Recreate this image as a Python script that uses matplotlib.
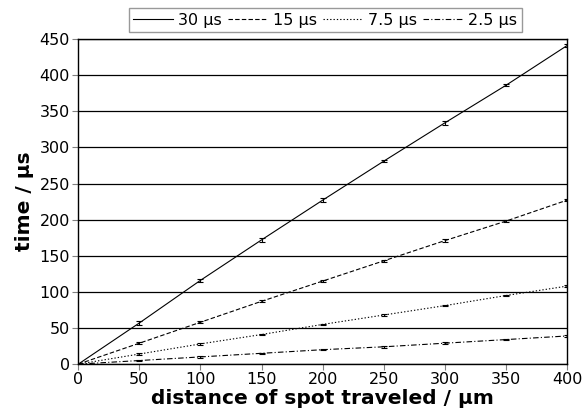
import matplotlib.pyplot as plt

# distance of spot traveled (um)
distance = [0, 50, 100, 150, 200, 250, 300, 350, 400]

# time (us) for each exposure
t_30 = [0, 57, 116, 172, 227, 281, 334, 386, 441]
t_15 = [0, 29, 58, 87, 115, 143, 171, 198, 227]
t_7_5 = [0, 14, 28, 41, 55, 68, 81, 95, 108]
t_2_5 = [0, 5, 10, 15, 20, 24, 29, 34, 39]

err_30 = [0, 2.5, 2.5, 3, 3, 1.5, 2.5, 1.5, 2]
err_15 = [0, 1.5, 1.5, 1.5, 1.5, 1.5, 2, 1, 1.5]
err_7_5 = [0, 1, 1, 1, 1, 1, 1, 1, 1.5]
err_2_5 = [0, 1, 1, 1, 1, 1, 1, 1, 1]

labels = ['30 µs', '15 µs', '7.5 µs', '2.5 µs']

fig = plt.figure(figsize=(5.84, 4.2), dpi=100)
ax = fig.add_axes([0.134, 0.133, 0.837, 0.774])

series = [t_30, t_15, t_7_5, t_2_5]
errs = [err_30, err_15, err_7_5, err_2_5]
styles = ['-', (0, (4, 2)), (0, (1.2, 1.8)), (0, (5, 2, 1, 2))]

for y, e, ls, lab in zip(series, errs, styles, labels):
    ax.errorbar(distance, y, yerr=e, color='black', lw=0.8, ls=ls,
                elinewidth=0.8, capsize=2.5, capthick=0.8, label=lab)

ax.set_xlim(0, 400)
ax.set_ylim(0, 450)
ax.set_xticks(range(0, 401, 50))
ax.set_yticks(range(0, 451, 50))
ax.yaxis.grid(True, color='black', lw=0.9)
ax.set_axisbelow(True)
ax.tick_params(direction='out', length=4, width=0.8, color='gray', labelsize=11.5, pad=2)
for s in ax.spines.values():
    s.set_linewidth(1.0)

ax.set_xlabel('distance of spot traveled / µm', fontsize=14.5, fontweight='bold', labelpad=1)
ax.set_ylabel('time / µs', fontsize=14.5, fontweight='bold', labelpad=4)

handles, labs = ax.get_legend_handles_labels()
handles = [h[0] for h in handles]
leg = fig.legend(handles, labs, loc='center', ncol=4, bbox_to_anchor=(0.557, 0.952),
                 fontsize=11.5, frameon=True, fancybox=False, edgecolor='gray',
                 handlelength=2.5, handletextpad=0.3, columnspacing=0.4,
                 borderpad=0.3, borderaxespad=0)
leg.get_frame().set_linewidth(1.0)

fig.savefig('out.png', dpi=100)
